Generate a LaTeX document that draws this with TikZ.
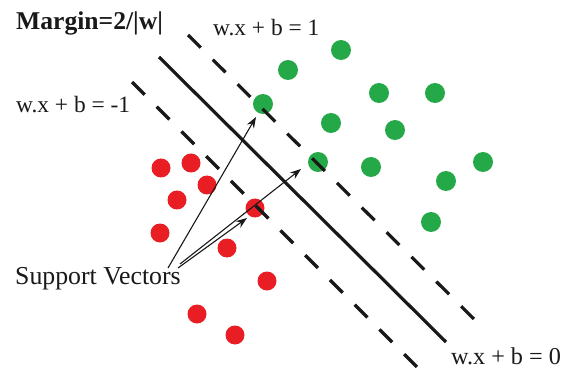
\documentclass[tikz,border=0pt]{standalone}
\usepackage{fontspec}
\setmainfont{Liberation Serif}
\usetikzlibrary{arrows.meta}
\definecolor{dotgreen}{RGB}{36,168,72}
\definecolor{dotred}{RGB}{232,30,36}
\definecolor{ink}{RGB}{25,25,25}
\tikzset{
  gdot/.style={circle,fill=dotgreen,minimum size=20pt,inner sep=0pt},
  rdot/.style={circle,fill=dotred,minimum size=19pt,inner sep=0pt},
  lbl/.style={anchor=base west,inner sep=0pt,text=ink,font=\fontsize{23.4}{27}\selectfont},
  hyper/.style={line width=3.2pt,ink},
  marginline/.style={line width=3.2pt,ink,dash pattern=on 18pt off 17pt},
  pointer/.style={line width=1.1pt,ink,-{Stealth[length=11pt,width=8pt]}}
}
\begin{document}
\begin{tikzpicture}[x=1pt,y=-1pt]
\useasboundingbox (0,0) rectangle (566,369);
\fill[white] (0,0) rectangle (566,369);
% points
\node[gdot] (g1) at (341,50) {};
\node[gdot] (g2) at (288,70) {};
\node[gdot] (g3) at (379,93) {};
\node[gdot] (g4) at (435,93) {};
\node[gdot] (g5) at (263,104) {};
\node[gdot] (g6) at (331,123) {};
\node[gdot] (g7) at (395,130) {};
\node[gdot] (g8) at (318,162) {};
\node[gdot] (g9) at (371,167) {};
\node[gdot] (g10) at (483,162) {};
\node[gdot] (g11) at (446,181) {};
\node[gdot] (g12) at (431,222) {};
\node[rdot] (r1) at (161,168) {};
\node[rdot] (r2) at (191,163) {};
\node[rdot] (r3) at (207,185) {};
\node[rdot] (r4) at (177,200) {};
\node[rdot] (r5) at (255,208) {};
\node[rdot] (r6) at (160,233) {};
\node[rdot] (r7) at (227,248) {};
\node[rdot] (r8) at (267,281) {};
\node[rdot] (r9) at (197,314) {};
\node[rdot] (r10) at (235,335) {};
% hyperplanes
\coordinate (h0a) at (159,57);
\coordinate (h0b) at (446,342);
\coordinate (hpa) at (188,35);
\coordinate (hpb) at (475,320);
\coordinate (hma) at (132,82);
\coordinate (hmb) at (419,369);
\draw[hyper] (h0a) -- (h0b);
\draw[marginline] (hpa) -- (hpb);
\draw[marginline] (hma) -- (hmb);
% labels
\node[lbl,font=\fontsize{25.6}{30}\selectfont\bfseries] (margin) at (16,30) {Margin=2/|w|};
\node[lbl] (eqp) at (213,36) {w.x + b = 1};
\node[lbl] (eqm) at (16,113) {w.x + b = -1};
\node[lbl,font=\fontsize{24.2}{28}\selectfont] (eqz) at (451,364) {w.x + b = 0};
\node[lbl,font=\fontsize{25.8}{30}\selectfont] (sv) at (15,284) {Support Vectors};
% pointers
\coordinate (s1) at (168,268);
\coordinate (s2) at (180,264);
\coordinate (s3) at (178,268);
\coordinate (t1) at (256,117);
\coordinate (t2) at (301,169);
\coordinate (t3) at (247,218);
\draw[pointer] (s1) -- (t1);
\draw[pointer] (s2) -- (t2);
\draw[pointer] (s3) -- (t3);
\end{tikzpicture}
\end{document}
